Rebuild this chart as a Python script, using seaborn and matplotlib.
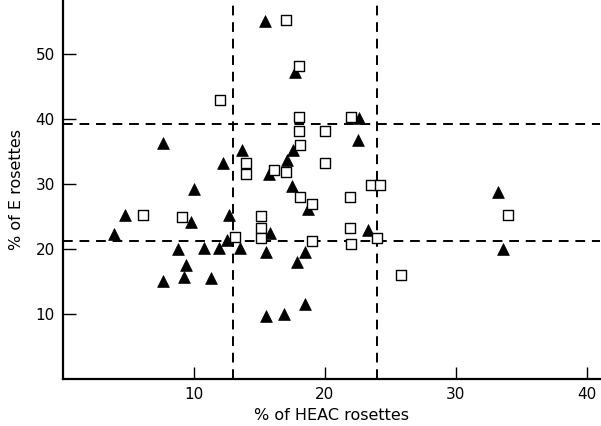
import numpy as np
import pandas as pd
import matplotlib
matplotlib.use("Agg")
import matplotlib.pyplot as plt
import seaborn as sns

# ── data ────────────────────────────────────────────────────
tri_x = [15.4, 17.7, 22.6, 7.6, 22.5, 13.7, 17.6, 17.1, 12.2, 15.7,
         10.0, 17.5, 18.7, 4.7, 12.7, 9.8, 15.8, 23.3, 3.9, 12.5,
         8.8, 10.8, 11.9, 13.5, 15.5, 18.5, 9.4, 17.9, 9.2, 11.3,
         7.6, 18.5, 16.9, 15.5, 33.2, 33.6]
tri_y = [55.1, 47.3, 40.1, 36.3, 36.8, 35.2, 35.2, 33.7, 33.2, 31.5,
         29.2, 29.7, 26.1, 25.3, 25.3, 24.2, 22.5, 23.0, 22.3, 21.4,
         20.0, 20.1, 20.1, 20.1, 19.6, 19.6, 17.6, 18.0, 15.7, 15.6,
         15.1, 11.5, 10.0, 9.7, 28.7, 20.0]

sq_x = [17.0, 18.0, 12.0, 18.0, 22.0, 18.0, 20.0, 18.1, 14.0, 20.0,
        14.0, 16.1, 17.0, 23.5, 24.2, 18.1, 21.9, 19.0, 6.1, 9.1,
        15.1, 15.1, 15.1, 21.9, 13.1, 19.0, 22.0, 24.0, 25.8, 34.0]
sq_y = [55.2, 48.2, 42.9, 40.3, 40.3, 38.2, 38.2, 36.0, 33.2, 33.2,
        31.5, 32.2, 31.9, 29.8, 29.8, 28.0, 28.0, 26.9, 25.2, 25.0,
        25.1, 23.2, 21.7, 23.2, 21.9, 21.3, 20.8, 21.7, 16.0, 25.2]

cut_x = [13, 24]
cut_y = [39.2, 21.2]

x_ticks = [10, 20, 30, 40]
y_ticks = [10, 20, 30, 40, 50]

tri = pd.DataFrame({"heac": tri_x, "e": tri_y})
sq = pd.DataFrame({"heac": sq_x, "e": sq_y})

# ── plot ────────────────────────────────────────────────────
sns.set_style("ticks")
plt.rcParams["font.family"] = ["DejaVu Sans"]

fig = plt.figure(figsize=(6.01, 4.26), dpi=100)
ax = fig.add_axes([0.105, 0.11, 0.893, 0.89])

sns.scatterplot(data=tri, x="heac", y="e", marker="^", s=72,
                color="black", edgecolor="black", linewidth=0.5, ax=ax, zorder=3)
sns.scatterplot(data=sq, x="heac", y="e", marker="s", s=52,
                facecolor="white", edgecolor="black", linewidth=1.0, ax=ax, zorder=4)

for v in cut_x:
    ax.axvline(v, color="black", lw=1.4, ls=(0, (5, 3.5)), zorder=2)
for h in cut_y:
    ax.axhline(h, color="black", lw=1.4, ls=(0, (5, 3.5)), zorder=2)

ax.set_xlim(0, 41)
ax.set_ylim(0, 58.3)
ax.set_xticks(x_ticks)
ax.set_yticks(y_ticks)
ax.tick_params(direction="in", length=9, width=1, labelsize=11,
               colors="black", pad=6)
sns.despine(ax=ax)
for side in ["left", "bottom"]:
    ax.spines[side].set_linewidth(1.6)
    ax.spines[side].set_color("black")

ax.set_xlabel("% of HEAC rosettes", fontsize=11.5, labelpad=4, color="black")
ax.set_ylabel("% of E rosettes", fontsize=11.5, labelpad=8, color="black")

plt.savefig("out.png", dpi=100)
